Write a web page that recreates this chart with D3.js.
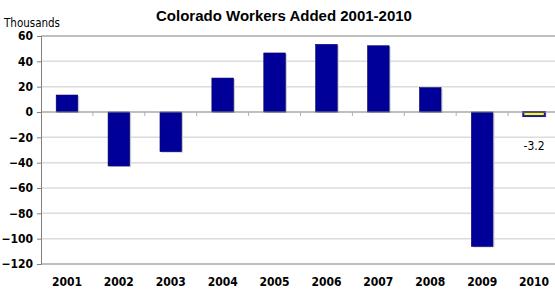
<!DOCTYPE html>
<html>
<head>
<meta charset="utf-8">
<script src="https://cdn.jsdelivr.net/npm/d3@7"></script>
<style>
  body { margin: 0; background: #fff; }
  svg { display: block; }
  .narrow { font-family: 'DejaVu Sans Condensed', 'DejaVu Sans', sans-serif; font-stretch: condensed; }
</style>
</head>
<body>
<script>
// data
const years = ['2001', '2002', '2003', '2004', '2005', '2006', '2007', '2008', '2009', '2010'];
const workersAdded = [13.4, -42.6, -31.3, 26.8, 46.6, 53.4, 52.3, 19.2, -106.1, -3.2];
const yTicks = [60, 40, 20, 0, -20, -40, -60, -80, -100, -120];
const highlightYear = '2010';

const width = 555, height = 292;
const margin = { top: 36, right: -5, bottom: 28, left: 41 };

const svg = d3.select('body')
    .append('svg')
    .attr('width', width)
    .attr('height', height);

// scales
const x = d3.scaleBand()
    .domain(years)
    .range([margin.left, width - margin.right])
    .paddingInner(0.585)
    .paddingOuter(0.2925);

const y = d3.scaleLinear()
    .domain([-120, 60])
    .range([height - margin.bottom, margin.top]);

// gridlines
svg.append('g')
    .selectAll('line')
    .data(yTicks.filter(d => d !== 0 && d !== -120 && d !== 60))
    .join('line')
    .attr('x1', margin.left)
    .attr('x2', width)
    .attr('y1', d => y(d))
    .attr('y2', d => y(d))
    .attr('stroke', '#dcdcdc')
    .attr('stroke-width', 1.5);

// top and bottom frame lines
svg.append('g')
    .selectAll('line')
    .data([60, -120])
    .join('line')
    .attr('x1', margin.left)
    .attr('x2', width)
    .attr('y1', d => y(d))
    .attr('y2', d => y(d))
    .attr('stroke', '#808080')
    .attr('stroke-width', 1);

// bar shadows
svg.append('g')
    .selectAll('rect')
    .data(years)
    .join('rect')
    .attr('x', d => x(d) + 1.5)
    .attr('y', (d, i) => Math.min(y(workersAdded[i]), y(0)) + 1)
    .attr('width', x.bandwidth())
    .attr('height', (d, i) => Math.abs(y(workersAdded[i]) - y(0)))
    .attr('fill', '#c8c8d0');

// bars
svg.append('g')
    .selectAll('rect')
    .data(years)
    .join('rect')
    .attr('x', d => x(d))
    .attr('y', (d, i) => Math.min(y(workersAdded[i]), y(0)))
    .attr('width', x.bandwidth())
    .attr('height', (d, i) => Math.abs(y(workersAdded[i]) - y(0)))
    .attr('fill', d => d === highlightYear ? '#ffff00' : '#000099')
    .attr('stroke', d => d === highlightYear ? '#1a1aa6' : '#000066')
    .attr('stroke-width', d => d === highlightYear ? 2 : 0.6);

// zero line with category ticks
svg.append('line')
    .attr('x1', margin.left)
    .attr('x2', width)
    .attr('y1', y(0))
    .attr('y2', y(0))
    .attr('stroke', '#808080')
    .attr('stroke-width', 1.2);

svg.append('g')
    .selectAll('line')
    .data(years)
    .join('line')
    .attr('x1', d => x(d) + x.bandwidth() / 2 + x.step() / 2)
    .attr('x2', d => x(d) + x.bandwidth() / 2 + x.step() / 2)
    .attr('y1', y(0))
    .attr('y2', y(0) + 4)
    .attr('stroke', '#b0b0b0');

// y axis
const yAxis = d3.axisLeft(y).tickValues(yTicks).tickSize(4).tickPadding(4);
const yG = svg.append('g')
    .attr('transform', `translate(${margin.left},0)`)
    .call(yAxis);
yG.select('.domain').attr('stroke', '#808080');
yG.selectAll('.tick line').attr('stroke', '#808080');
yG.selectAll('.tick text')
    .attr('class', 'narrow')
    .attr('font-weight', 'bold')
    .attr('font-size', 12)
    .attr('fill', '#000');

// x labels at the bottom
const xAxis = d3.axisBottom(x).tickSize(0).tickPadding(13);
const xG = svg.append('g')
    .attr('transform', `translate(0,${y(-120)})`)
    .call(xAxis);
xG.select('.domain').remove();
xG.selectAll('.tick text')
    .attr('class', 'narrow')
    .attr('font-weight', 'bold')
    .attr('font-size', 12)
    .attr('fill', '#000');

// value label for the highlighted bar
const hi = years.indexOf(highlightYear);
svg.append('text')
    .attr('class', 'narrow')
    .attr('x', x(highlightYear) + x.bandwidth() / 2)
    .attr('y', y(workersAdded[hi]) + 34)
    .attr('text-anchor', 'middle')
    .attr('font-size', 12)
    .text(workersAdded[hi]);

// title and unit
svg.append('text')
    .attr('x', 284)
    .attr('y', 21)
    .attr('text-anchor', 'middle')
    .attr('font-family', "'Liberation Sans', Arial, sans-serif")
    .attr('font-weight', 'bold')
    .attr('font-size', 15)
    .text('Colorado Workers Added 2001-2010');

svg.append('text')
    .attr('class', 'narrow')
    .attr('x', 4)
    .attr('y', 27)
    .attr('font-size', 11.5)
    .text('Thousands');
</script>
</body>
</html>
